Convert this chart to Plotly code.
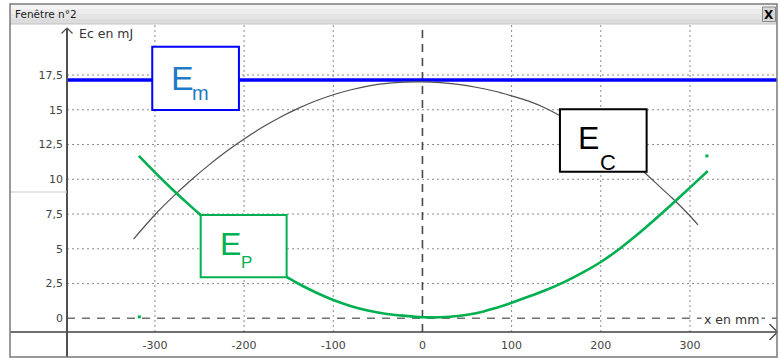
import plotly.graph_objects as go

# ---- energies along the track (x in mm, energies in mJ) ----
ep_x = [-318, -300, -280, -260, -249, -240, -220, -200, -180, -160, -151, -140, -120,
        -100, -80, -60, -40, -20, 0, 20, 40, 60, 80, 100, 120, 140, 160, 180, 200,
        220, 240, 260, 280, 300, 320]
ep_mJ = [11.68, 10.50, 9.25, 8.07, 7.45, 6.96, 5.93, 4.97, 4.08, 3.26, 2.92, 2.52, 1.87,
         1.31, 0.87, 0.54, 0.31, 0.18, 0.08, 0.08, 0.16, 0.36, 0.70, 1.12, 1.58, 2.07,
         2.64, 3.30, 4.05, 4.95, 5.97, 7.07, 8.22, 9.40, 10.60]

ec_x = [-324, -300, -280, -260, -240, -220, -200, -180, -160, -140, -120, -100, -80,
        -60, -40, -20, 0, 20, 40, 60, 80, 100, 120, 140, 160, 180, 200, 220, 240, 250,
        260, 280, 298, 309]
ec_mJ = [5.70, 7.45, 8.73, 9.91, 11.0, 12.0, 12.9, 13.72, 14.45, 15.08, 15.63, 16.08,
         16.44, 16.72, 16.90, 16.99, 17.0, 16.95, 16.82, 16.62, 16.35, 16.0, 15.6, 15.06,
         14.37, 13.62, 12.8, 11.9, 10.95, 10.43, 9.83, 8.65, 7.5, 6.72]

em_x = [-400, 400]
em_mJ = [17.15, 17.15]

# isolated points recorded at both ends of the run
mark_x = [-317.5, 319]
mark_mJ = [0.1, 11.68]

x_ticks = [-300, -200, -100, 0, 100, 200, 300]
x_tick_text = ["-300", "-200", "-100", "0", "100", "200", "300"]
y_ticks = [0, 2.5, 5, 7.5, 10, 12.5, 15, 17.5]
y_tick_text = ["0", "2,5", "5", "7,5", "10", "12,5", "15", "17,5"]

# ---- window geometry ----
W, H = 781, 358
X_RANGE = [-398.6, 397.6]
Y_RANGE = [-0.986, 21.17]
PLOT_L, PLOT_R, PLOT_T, PLOT_B = 67, 777, 24, 332

BLUE = "#0000FF"
BLUE_TXT = "#1F7BC6"
GREEN = "#00B050"
GREY_CURVE = "#505050"
GRID = "#8A8A8A"
GRID_DASH = "2px,3px"


def px(x):
    return x / W


def py(y):
    return 1 - y / H


def glyph(text, left, baseline, size, color):
    return dict(text=text, xref="paper", yref="paper",
                x=px(left - 1 - 0.08 * size), y=py(baseline - 0.3465 * size),
                xanchor="left", yanchor="middle", showarrow=False,
                font=dict(family="Liberation Sans", size=size, color=color))


def line(x0, y0, x1, y1, color, width, dash="solid", layer="above"):
    return dict(type="line", xref="paper", yref="paper",
                x0=px(x0), y0=py(y0), x1=px(x1), y1=py(y1),
                line=dict(color=color, width=width, dash=dash), layer=layer)


def rect(x0, y0, x1, y1, fill, border=None, width=0):
    return dict(type="rect", xref="paper", yref="paper",
                x0=px(x0), y0=py(y0), x1=px(x1), y1=py(y1),
                fillcolor=fill, line=dict(color=border or fill, width=width),
                layer="above")


def label_box(x0, y0, x1, y1, color):
    return dict(type="rect", xref="x", yref="y", x0=x0, y0=y0, x1=x1, y1=y1,
                fillcolor="white", line=dict(color=color, width=2), layer="above")


fig = go.Figure()
fig.add_trace(go.Scatter(x=em_x, y=em_mJ, mode="lines",
                         line=dict(color=BLUE, width=3.5), showlegend=False))
fig.add_trace(go.Scatter(x=ec_x, y=ec_mJ, mode="lines",
                         line=dict(color=GREY_CURVE, width=1.2, shape="spline", smoothing=0.8),
                         showlegend=False))
fig.add_trace(go.Scatter(x=ep_x, y=ep_mJ, mode="lines",
                         line=dict(color=GREEN, width=2.6, shape="spline", smoothing=0.8),
                         showlegend=False))
fig.add_trace(go.Scatter(x=mark_x, y=mark_mJ, mode="markers",
                         marker=dict(color=GREEN, size=3, symbol="square"),
                         showlegend=False))

shapes = []
# dotted grid at every tick except the axes through the origin
for v in x_ticks:
    if v != 0:
        shapes.append(dict(type="line", xref="x", yref="paper", x0=v, x1=v,
                           y0=py(PLOT_B), y1=py(PLOT_T),
                           line=dict(color=GRID, width=1, dash=GRID_DASH), layer="below"))
for v in y_ticks:
    if v != 0:
        shapes.append(dict(type="line", xref="paper", yref="y", x0=px(PLOT_L), x1=px(PLOT_R),
                           y0=v, y1=v,
                           line=dict(color=GRID, width=1, dash=GRID_DASH), layer="below"))
# dashed reference lines through the origin
shapes.append(dict(type="line", xref="paper", yref="y", x0=px(PLOT_L), x1=px(PLOT_R),
                   y0=0, y1=0, line=dict(color="#707070", width=1.6, dash="8px,7px"),
                   layer="below"))
shapes.append(dict(type="line", xref="x", yref="paper", x0=0, x1=0,
                   y0=py(PLOT_B), y1=py(PLOT_T),
                   line=dict(color="#4a4a4a", width=1.6, dash="8px,6px"),
                   layer="below"))
# energy label boxes
shapes.append(label_box(-303.0, 14.98, -205.8, 19.54, BLUE))
shapes.append(label_box(154.2, 10.55, 251.4, 15.04, "#000000"))
shapes.append(label_box(-248.7, 2.95, -152.3, 7.43, GREEN))
# title bar
bands = ["#F4F4F4", "#ECECEC", "#E4E4E4", "#DCDCDC"]
for i, c in enumerate(bands):
    shapes.append(rect(10, 4 + i * 5, 777, 4 + (i + 1) * 5, c))
shapes.append(line(10, 24, 777, 24, "#C4C4C4", 1))
# close button
shapes.append(rect(762.5, 7, 775.5, 21.5, "#D6D6D6", "#8A8A8A", 1))
# axes with arrows
shapes.append(line(10, 332, 777, 332, "#404040", 1.5))
shapes.append(line(769.5, 324, 777.5, 332, "#404040", 1.3))
shapes.append(line(777.5, 332, 769.5, 340, "#404040", 1.3))
shapes.append(line(67, 28, 67, 357, "#505050", 2))
shapes.append(line(61.5, 33.5, 67, 28, "#505050", 1.3))
shapes.append(line(67, 28, 72.5, 33.5, "#505050", 1.3))
shapes.append(line(10, 192, 67, 192, "#CACACA", 1))
# window frame
shapes.append(dict(type="rect", xref="paper", yref="paper",
                   x0=px(10), y0=py(357), x1=px(777), y1=py(4),
                   line=dict(color="#7A7A7A", width=1.5), fillcolor="rgba(0,0,0,0)",
                   layer="above"))

annotations = [
    dict(text="Fenêtre n°2", xref="paper", yref="paper", x=px(13), y=py(14),
         xanchor="left", yanchor="middle", showarrow=False,
         font=dict(family="DejaVu Sans", size=10.5, color="#1A1A1A")),
    dict(text="<b>X</b>", xref="paper", yref="paper", x=px(769), y=py(14.5),
         xanchor="center", yanchor="middle", showarrow=False,
         font=dict(family="DejaVu Sans", size=12, color="#000000")),
    dict(text="Ec en mJ", xref="paper", yref="paper", x=px(77), y=py(34),
         xanchor="left", yanchor="middle", showarrow=False,
         font=dict(family="DejaVu Sans", size=12.5, color="#333333")),
    dict(text="x en mm", xref="paper", yref="paper", x=px(701), y=py(319),
         xanchor="left", yanchor="middle", showarrow=False, bgcolor="white",
         borderpad=2, font=dict(family="DejaVu Sans", size=12.5, color="#333333")),
    glyph("E", 173, 90, 34, BLUE_TXT),
    glyph("m", 193, 100, 20, BLUE_TXT),
    glyph("E", 580, 149.3, 32, "#000000"),
    glyph("C", 601, 170.5, 22, "#000000"),
    glyph("E", 221.7, 255, 32, GREEN),
    glyph("P", 241.7, 268.3, 17, GREEN),
]

axis_font = dict(family="DejaVu Sans", size=11, color="#444444")
fig.update_layout(
    width=W, height=H,
    margin=dict(l=0, r=0, t=0, b=0),
    paper_bgcolor="white", plot_bgcolor="white",
    shapes=shapes, annotations=annotations,
    xaxis=dict(domain=[PLOT_L / W, PLOT_R / W], range=X_RANGE,
               tickvals=x_ticks, ticktext=x_tick_text, tickfont=axis_font,
               ticks="", ticklabelstandoff=5, showline=False, zeroline=False,
               showgrid=False, fixedrange=True),
    yaxis=dict(domain=[1 - PLOT_B / H, 1 - PLOT_T / H], range=Y_RANGE,
               tickvals=y_ticks, ticktext=y_tick_text, tickfont=axis_font,
               ticks="", ticklabelstandoff=3, showline=False, zeroline=False,
               showgrid=False, fixedrange=True),
)

fig.write_html("out.html")
